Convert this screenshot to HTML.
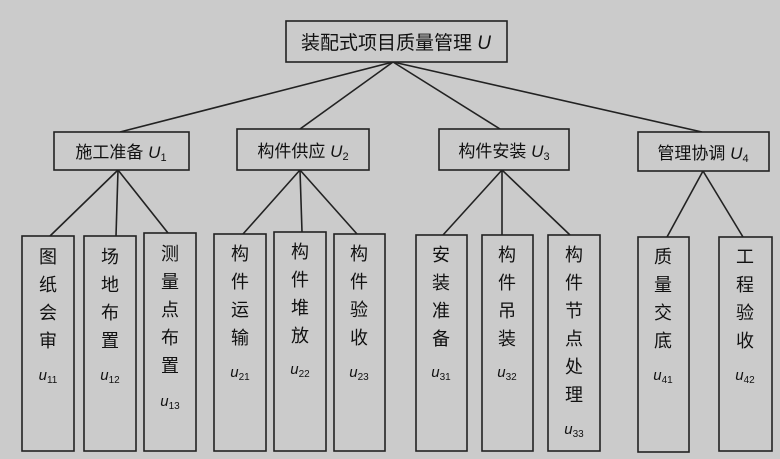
<!DOCTYPE html>
<html><head><meta charset="utf-8"><style>
html,body{margin:0;padding:0;background:#cbcbcb;}
svg{display:block;}
text{font-family:"Liberation Sans","Noto Sans CJK SC",sans-serif;fill:#111;}
.v{font-size:18px;}
.s{font-style:italic;}
</style></head><body>
<svg width="780" height="459" viewBox="0 0 780 459" xmlns="http://www.w3.org/2000/svg">
<rect width="780" height="459" fill="#cbcbcb"/>
<g stroke="#222" stroke-width="1.6" fill="none">
<line x1="393" y1="62" x2="120" y2="132"/>
<line x1="393" y1="62" x2="300" y2="129"/>
<line x1="393" y1="62" x2="500" y2="129"/>
<line x1="393" y1="62" x2="702" y2="132"/>
<line x1="118" y1="170" x2="50" y2="236"/>
<line x1="118" y1="170" x2="116" y2="236"/>
<line x1="118" y1="170" x2="168" y2="233"/>
<line x1="300" y1="170" x2="243" y2="234"/>
<line x1="300" y1="170" x2="302" y2="232"/>
<line x1="300" y1="170" x2="357" y2="234"/>
<line x1="502" y1="170" x2="443" y2="235"/>
<line x1="502" y1="170" x2="502" y2="235"/>
<line x1="502" y1="170" x2="570" y2="235"/>
<line x1="703" y1="171" x2="667" y2="237"/>
<line x1="703" y1="171" x2="743" y2="237"/>
</g>
<g stroke="#222" stroke-width="1.6" fill="#cbcbcb">
<rect x="286" y="21" width="221" height="41"/>
<rect x="54" y="132" width="135" height="38"/>
<rect x="237" y="129" width="132" height="41"/>
<rect x="439" y="129" width="130" height="41"/>
<rect x="638" y="132" width="131" height="39"/>
<rect x="22" y="236" width="52" height="215"/>
<rect x="84" y="236" width="52" height="215"/>
<rect x="144" y="233" width="52" height="218"/>
<rect x="214" y="234" width="52" height="217"/>
<rect x="274" y="232" width="52" height="219"/>
<rect x="334" y="234" width="51" height="217"/>
<rect x="416" y="235" width="51" height="216"/>
<rect x="482" y="235" width="51" height="216"/>
<rect x="548" y="235" width="52" height="216"/>
<rect x="638" y="237" width="51" height="215"/>
<rect x="719" y="237" width="53" height="214"/>
</g>
<text x="396" y="49" font-size="19" text-anchor="middle">装配式项目质量管理 <tspan class="s">U</tspan></text>
<text x="121" y="158" font-size="17" text-anchor="middle">施工准备 <tspan class="s">U</tspan><tspan font-size="11" dy="3">1</tspan></text>
<text x="303" y="157" font-size="17" text-anchor="middle">构件供应 <tspan class="s">U</tspan><tspan font-size="11" dy="3">2</tspan></text>
<text x="504" y="157" font-size="17" text-anchor="middle">构件安装 <tspan class="s">U</tspan><tspan font-size="11" dy="3">3</tspan></text>
<text x="703" y="159" font-size="17" text-anchor="middle">管理协调 <tspan class="s">U</tspan><tspan font-size="11" dy="3">4</tspan></text>
<g class="v" text-anchor="middle">
<text x="48" y="263">图</text><text x="48" y="291">纸</text><text x="48" y="319">会</text><text x="48" y="347">审</text>
<text x="110" y="263">场</text><text x="110" y="291">地</text><text x="110" y="319">布</text><text x="110" y="347">置</text>
<text x="170" y="260">测</text><text x="170" y="288">量</text><text x="170" y="316">点</text><text x="170" y="344">布</text><text x="170" y="372">置</text>
<text x="240" y="260">构</text><text x="240" y="288">件</text><text x="240" y="316">运</text><text x="240" y="344">输</text>
<text x="300" y="258">构</text><text x="300" y="286">件</text><text x="300" y="314">堆</text><text x="300" y="342">放</text>
<text x="359" y="260">构</text><text x="359" y="288">件</text><text x="359" y="316">验</text><text x="359" y="344">收</text>
<text x="441" y="261">安</text><text x="441" y="289">装</text><text x="441" y="317">准</text><text x="441" y="345">备</text>
<text x="507" y="261">构</text><text x="507" y="289">件</text><text x="507" y="317">吊</text><text x="507" y="345">装</text>
<text x="574" y="261">构</text><text x="574" y="289">件</text><text x="574" y="317">节</text><text x="574" y="345">点</text><text x="574" y="373">处</text><text x="574" y="401">理</text>
<text x="663" y="263">质</text><text x="663" y="291">量</text><text x="663" y="319">交</text><text x="663" y="347">底</text>
<text x="745" y="263">工</text><text x="745" y="291">程</text><text x="745" y="319">验</text><text x="745" y="347">收</text>
</g>
<g font-size="15" text-anchor="middle">
<text x="48" y="380"><tspan class="s">u</tspan><tspan font-size="10" dy="3">11</tspan></text>
<text x="110" y="380"><tspan class="s">u</tspan><tspan font-size="10" dy="3">12</tspan></text>
<text x="170" y="406"><tspan class="s">u</tspan><tspan font-size="10" dy="3">13</tspan></text>
<text x="240" y="377"><tspan class="s">u</tspan><tspan font-size="10" dy="3">21</tspan></text>
<text x="300" y="374"><tspan class="s">u</tspan><tspan font-size="10" dy="3">22</tspan></text>
<text x="359" y="377"><tspan class="s">u</tspan><tspan font-size="10" dy="3">23</tspan></text>
<text x="441" y="377"><tspan class="s">u</tspan><tspan font-size="10" dy="3">31</tspan></text>
<text x="507" y="377"><tspan class="s">u</tspan><tspan font-size="10" dy="3">32</tspan></text>
<text x="574" y="434"><tspan class="s">u</tspan><tspan font-size="10" dy="3">33</tspan></text>
<text x="663" y="380"><tspan class="s">u</tspan><tspan font-size="10" dy="3">41</tspan></text>
<text x="745" y="380"><tspan class="s">u</tspan><tspan font-size="10" dy="3">42</tspan></text>
</g>
</svg>
</body></html>
